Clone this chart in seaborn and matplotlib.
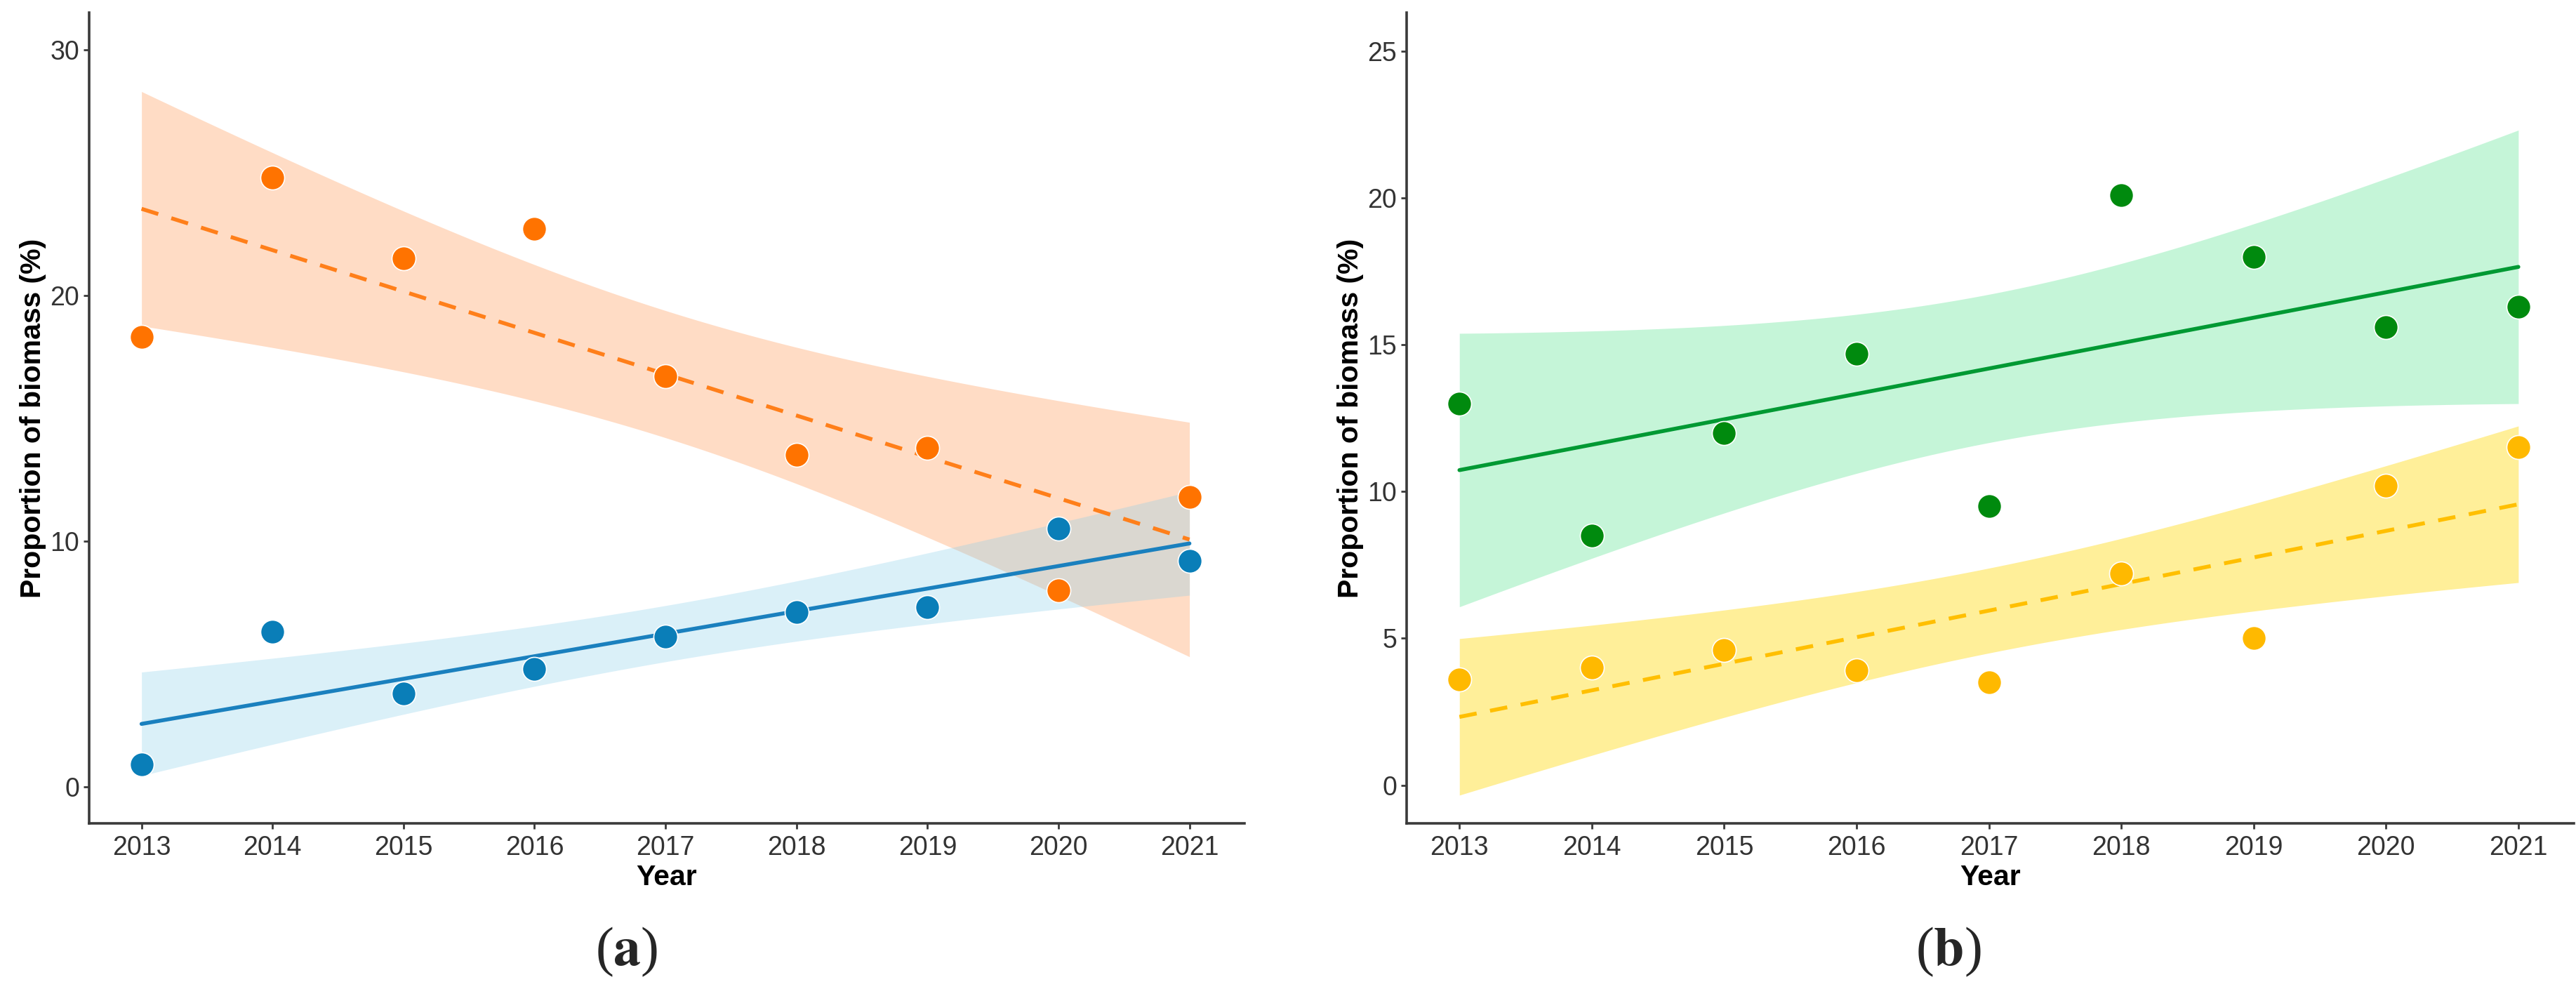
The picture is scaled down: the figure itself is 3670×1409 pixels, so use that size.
import matplotlib
matplotlib.use("Agg")
import matplotlib.pyplot as plt
import numpy as np
import pandas as pd
import seaborn as sns

# Data
years = [2013, 2014, 2015, 2016, 2017, 2018, 2019, 2020, 2021]

# panel (a)
orange_a = [18.3, 24.8, 21.5, 22.7, 16.7, 13.5, 13.8, 8.0, 11.8]
blue_a = [0.9, 6.3, 3.8, 4.8, 6.1, 7.1, 7.3, 10.5, 9.2]

# panel (b)
green_b = [13.0, 8.5, 12.0, 14.7, 9.5, 20.1, 18.0, 15.6, 16.3]
yellow_b = [3.6, 4.0, 4.6, 3.9, 3.5, 7.2, 5.0, 10.2, 11.5]

y_ticks_a = [0, 10, 20, 30]
y_ticks_b = [0, 5, 10, 15, 20, 25]

T_975 = 2.365  # Student t, 95%, df = n - 2 = 7 (like geom_smooth(method="lm"))


def lm_band(x, y, grid):
    # analytic 95% confidence band of the OLS fit
    x = np.asarray(x, float)
    y = np.asarray(y, float)
    slope, intercept = np.polyfit(x, y, 1)
    resid = y - (intercept + slope * x)
    s = np.sqrt(np.sum(resid ** 2) / (len(x) - 2))
    se = s * np.sqrt(1 / len(x) + (grid - x.mean()) ** 2 / np.sum((x - x.mean()) ** 2))
    fit = intercept + slope * grid
    return fit - T_975 * se, fit + T_975 * se


def draw_series(ax, values, point_color, line_color, band_color, band_alpha, ls):
    df = pd.DataFrame({'Year': years, 'value': values})
    grid = np.linspace(min(years), max(years), 120)
    lo, hi = lm_band(years, values, grid)
    ax.fill_between(grid, lo, hi, color=band_color, alpha=band_alpha, lw=0, zorder=1)
    sns.regplot(data=df, x='Year', y='value', ax=ax, scatter=False, ci=None,
                truncate=True,
                line_kws=dict(color=line_color, lw=4.0, ls=ls, zorder=2))
    sns.scatterplot(data=df, x='Year', y='value', ax=ax, color=point_color,
                    s=600, edgecolor='white', linewidth=1.2, zorder=3, legend=False)


def style_axis(ax, yticks, ylim):
    sns.despine(ax=ax)
    for side in ['left', 'bottom']:
        ax.spines[side].set_linewidth(2.6)
        ax.spines[side].set_color('#3a3a3a')
    ax.set_xlim(2012.6, 2021.42)
    ax.set_ylim(*ylim)
    ax.set_xticks(years)
    ax.set_yticks(yticks)
    ax.tick_params(length=6, width=2, color='#3a3a3a', labelsize=27,
                   labelcolor='#333333')
    ax.tick_params(axis='x', pad=6)
    ax.tick_params(axis='y', pad=4)
    ax.set_xlabel('Year', fontsize=29.5, fontweight='bold', color='black', labelpad=4)
    ax.set_ylabel('Proportion of biomass (%)', fontsize=29.5, fontweight='bold',
                  color='black', labelpad=4)
    ax.grid(False)


sns.set_theme(style='ticks')
plt.rcParams['font.family'] = ['Liberation Sans', 'DejaVu Sans']
plt.rcParams['mathtext.fontset'] = 'stix'

fig = plt.figure(figsize=(36.7, 14.09), dpi=100)
ax_a = fig.add_axes([0.0346, 0.1675, 0.4485, 0.8195])
ax_b = fig.add_axes([0.546, 0.1675, 0.4532, 0.8195])

# (a)
draw_series(ax_a, orange_a, '#FF7300', '#FF7F1A', '#FF8C42', 0.3, (0, (4.5, 3.5)))
draw_series(ax_a, blue_a, '#0A7EB8', '#1A80BE', '#87CEEB', 0.3, '-')
style_axis(ax_a, y_ticks_a, (-1.5, 31.5))

# (b)
draw_series(ax_b, green_b, '#008A0E', '#009933', '#40E080', 0.3, '-')
draw_series(ax_b, yellow_b, '#FFB900', '#FFBF00', '#FFD700', 0.4, (0, (4.5, 3.5)))
style_axis(ax_b, y_ticks_b, (-1.3, 26.3))

fig.text(0.2433, 0.0376, r'($\mathbf{a}$)', family='Liberation Serif', fontsize=56,
         ha='center', va='center')
fig.text(0.7564, 0.0376, r'($\mathbf{b}$)', family='Liberation Serif', fontsize=56,
         ha='center', va='center')

fig.savefig('out.png', dpi=100)
